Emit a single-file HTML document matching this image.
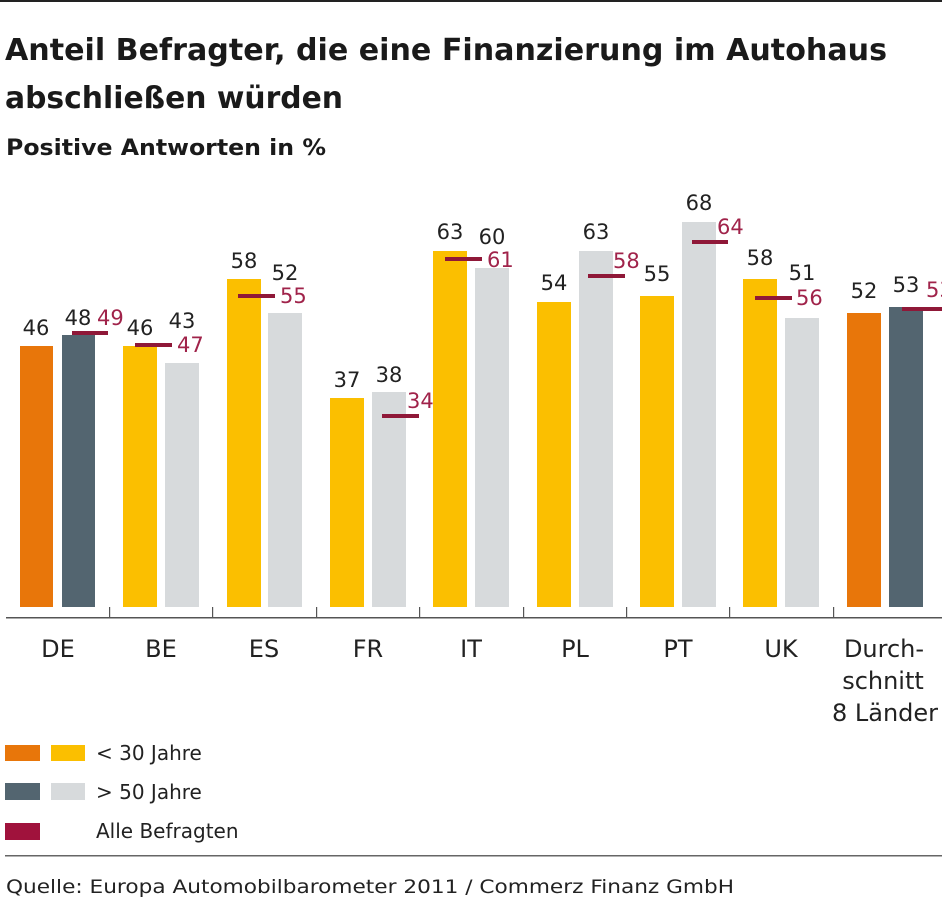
<!DOCTYPE html>
<html><head><meta charset="utf-8"><style>
html,body{margin:0;padding:0;background:#fff;}
svg{display:block;font-family:"DejaVu Sans","Liberation Sans",sans-serif;}
</style></head><body>
<svg width="942" height="900" viewBox="0 0 942 900" xmlns="http://www.w3.org/2000/svg">
<rect x="0" y="0" width="942" height="2" fill="#222"/>
<text x="5" y="60" font-size="30" font-weight="bold" fill="#1a1a1a" textLength="882" lengthAdjust="spacingAndGlyphs">Anteil Befragter, die eine Finanzierung im Autohaus</text>
<text x="5" y="108" font-size="30" font-weight="bold" fill="#1a1a1a" textLength="338" lengthAdjust="spacingAndGlyphs">abschließen würden</text>
<text x="6" y="155" font-size="22" font-weight="bold" fill="#1a1a1a" textLength="320" lengthAdjust="spacingAndGlyphs">Positive Antworten in %</text>

<g id="bars">
<rect x="20" y="346" width="33" height="261" fill="#e8760a"/>
<rect x="62" y="335" width="33" height="272" fill="#536570"/>
<rect x="123" y="346" width="34" height="261" fill="#fbbf00"/>
<rect x="165" y="363" width="34" height="244" fill="#d7dadc"/>
<rect x="227" y="279" width="34" height="328" fill="#fbbf00"/>
<rect x="268" y="313" width="34" height="294" fill="#d7dadc"/>
<rect x="330" y="398" width="34" height="209" fill="#fbbf00"/>
<rect x="372" y="392" width="34" height="215" fill="#d7dadc"/>
<rect x="433" y="251" width="34" height="356" fill="#fbbf00"/>
<rect x="475" y="268" width="34" height="339" fill="#d7dadc"/>
<rect x="537" y="302" width="34" height="305" fill="#fbbf00"/>
<rect x="579" y="251" width="34" height="356" fill="#d7dadc"/>
<rect x="640" y="296" width="34" height="311" fill="#fbbf00"/>
<rect x="682" y="222" width="34" height="385" fill="#d7dadc"/>
<rect x="743" y="279" width="34" height="328" fill="#fbbf00"/>
<rect x="785" y="318" width="34" height="289" fill="#d7dadc"/>
<rect x="847" y="313" width="34" height="294" fill="#e8760a"/>
<rect x="889" y="307" width="34" height="300" fill="#536570"/>
</g>

<g fill="#8f1838">
<rect x="72" y="331" width="36" height="4"/>
<rect x="135" y="343" width="37" height="4"/>
<rect x="238" y="294" width="37" height="4"/>
<rect x="382" y="414" width="37" height="4"/>
<rect x="445" y="257" width="37" height="4"/>
<rect x="588" y="274" width="37" height="4"/>
<rect x="692" y="240" width="36" height="4"/>
<rect x="755" y="296" width="37" height="4"/>
<rect x="902" y="307" width="40" height="4"/>
</g>

<g font-size="21" fill="#222" text-anchor="middle">
<text x="36" y="335">46</text><text x="78" y="325">48</text>
<text x="140" y="335">46</text><text x="182" y="328">43</text>
<text x="244" y="268">58</text><text x="285" y="280">52</text>
<text x="347" y="387">37</text><text x="389" y="382">38</text>
<text x="450" y="239">63</text><text x="492" y="244">60</text>
<text x="554" y="290">54</text><text x="596" y="239">63</text>
<text x="657" y="281">55</text><text x="699" y="210">68</text>
<text x="760" y="265">58</text><text x="802" y="280">51</text>
<text x="864" y="298">52</text><text x="906" y="292">53</text>
</g>
<g font-size="21" fill="#a0234a">
<text x="97" y="325">49</text>
<text x="177" y="352">47</text>
<text x="280" y="303">55</text>
<text x="407" y="408">34</text>
<text x="487" y="267">61</text>
<text x="613" y="268">58</text>
<text x="717" y="234">64</text>
<text x="796" y="305">56</text>
<text x="926" y="297">53</text>
</g>

<rect x="6" y="617" width="936" height="1.5" fill="#555"/>
<g fill="#555">
<rect x="109" y="607" width="1.2" height="11"/>
<rect x="212" y="607" width="1.2" height="11"/>
<rect x="316" y="607" width="1.2" height="11"/>
<rect x="419" y="607" width="1.2" height="11"/>
<rect x="523" y="607" width="1.2" height="11"/>
<rect x="626" y="607" width="1.2" height="11"/>
<rect x="729" y="607" width="1.2" height="11"/>
<rect x="833" y="607" width="1.2" height="11"/>
</g>
<g font-size="24" fill="#222" text-anchor="middle">
<text x="58" y="657">DE</text>
<text x="161" y="657">BE</text>
<text x="264" y="657">ES</text>
<text x="368" y="657">FR</text>
<text x="471" y="657">IT</text>
<text x="575" y="657">PL</text>
<text x="678" y="657">PT</text>
<text x="781" y="657">UK</text>
<text x="884" y="657">Durch-</text>
<text x="883" y="689">schnitt</text>
<text x="885" y="721">8 Länder</text>
</g>

<rect x="5" y="745" width="35" height="16" fill="#e8760a"/>
<rect x="51" y="745" width="34" height="16" fill="#fbbf00"/>
<rect x="5" y="783" width="35" height="17" fill="#536570"/>
<rect x="51" y="783" width="34" height="17" fill="#d7dadc"/>
<rect x="5" y="823" width="35" height="17" fill="#a0123c"/>
<g font-size="20" fill="#222">
<text x="96" y="760">&lt; 30 Jahre</text>
<text x="96" y="799">&gt; 50 Jahre</text>
<text x="96" y="838">Alle Befragten</text>
</g>
<rect x="5" y="855" width="937" height="1.5" fill="#666"/>
<text x="6" y="893" font-size="19" fill="#222" textLength="728" lengthAdjust="spacingAndGlyphs">Quelle: Europa Automobilbarometer 2011 / Commerz Finanz GmbH</text>
</svg>
</body></html>
